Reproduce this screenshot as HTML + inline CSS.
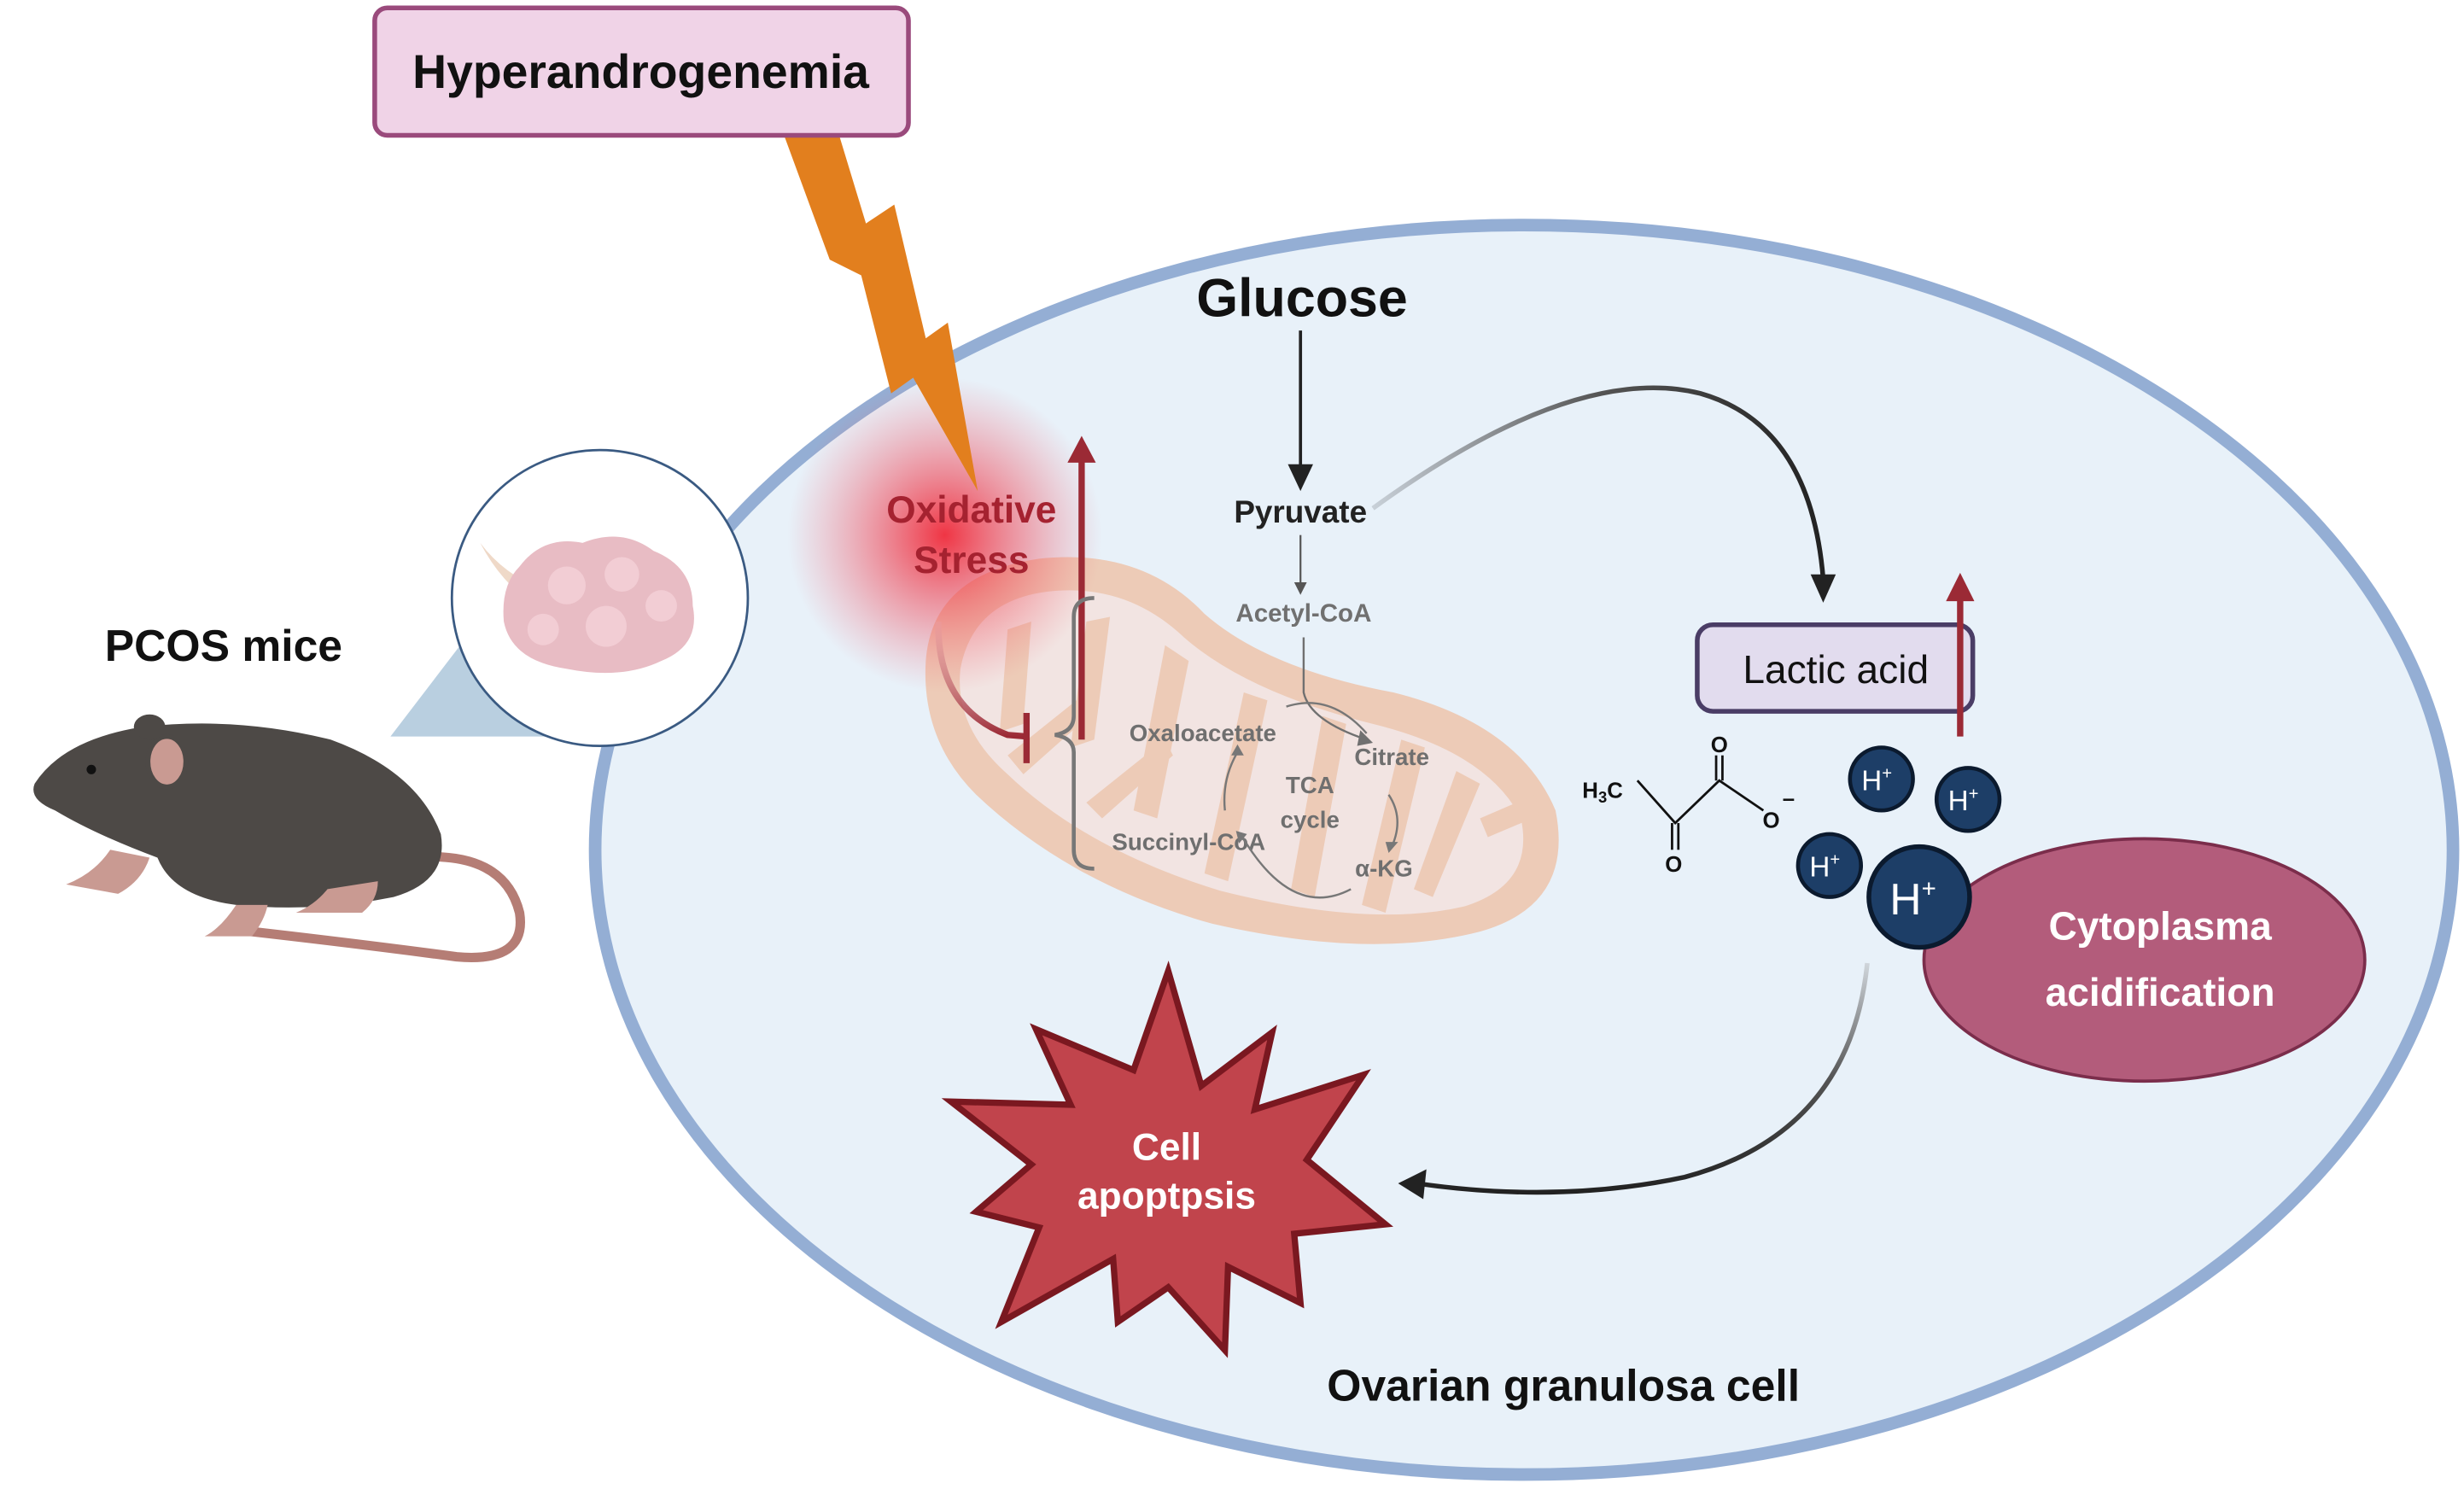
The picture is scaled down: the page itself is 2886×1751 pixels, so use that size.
<!DOCTYPE html>
<html><head><meta charset="utf-8"><style>
html,body{margin:0;padding:0;background:#fff;}
svg{display:block;}
text{font-family:"Liberation Sans",sans-serif;}
</style></head><body>
<svg width="2886" height="1751" viewBox="0 0 1565 950" preserveAspectRatio="none" xmlns="http://www.w3.org/2000/svg">
<defs>
<radialGradient id="glow" cx="0.5" cy="0.5" r="0.5">
<stop offset="0" stop-color="#f02030" stop-opacity="0.9"/>
<stop offset="0.5" stop-color="#f04050" stop-opacity="0.45"/>
<stop offset="1" stop-color="#f06070" stop-opacity="0"/>
</radialGradient>
<linearGradient id="g1" x1="0" y1="0" x2="1" y2="0">
<stop offset="0" stop-color="#c8d0d8"/><stop offset="0.5" stop-color="#555"/><stop offset="1" stop-color="#222"/>
</linearGradient>
<linearGradient id="g2" x1="0" y1="0" x2="0" y2="1">
<stop offset="0" stop-color="#d0d6dc"/><stop offset="0.5" stop-color="#555"/><stop offset="1" stop-color="#222"/>
</linearGradient>
<linearGradient id="g3" x1="0" y1="0" x2="0" y2="1">
<stop offset="0" stop-color="#e8a0a8" stop-opacity="0.3"/><stop offset="1" stop-color="#9b2a35"/>
</linearGradient>
</defs>

<ellipse cx="968" cy="540" rx="590" ry="397" fill="#e8f1f9" stroke="#94aed4" stroke-width="8"/>

<polygon points="248,468 372,468 300,400" fill="#b9cfe0"/>
<circle cx="381" cy="380" r="94" fill="#fff" stroke="#3a5a82" stroke-width="1.5"/>
<path d="M305,345 Q320,365 345,375 L340,385 Q318,370 305,345Z" fill="#efd9c8"/>
<path d="M330,360 Q345,340 370,345 Q395,335 415,350 Q440,360 440,385 Q445,410 420,420 Q395,432 360,425 Q325,420 320,395 Q318,372 330,360Z" fill="#e8bcc4"/>
<circle cx="360" cy="372" r="12" fill="#f2cdd4"/><circle cx="395" cy="365" r="11" fill="#f2cdd4"/><circle cx="385" cy="398" r="13" fill="#f2cdd4"/><circle cx="345" cy="400" r="10" fill="#f2cdd4"/><circle cx="420" cy="385" r="10" fill="#f2cdd4"/>

<!-- mouse -->
<path d="M262,545 Q320,540 330,580 Q335,612 290,608 Q230,600 160,592" fill="none" stroke="#b57d75" stroke-width="6" stroke-linecap="round"/>
<path d="M22,498 Q40,470 90,462 Q150,455 210,470 Q265,490 280,530 Q285,560 250,570 Q200,580 150,575 Q110,570 100,545 Q60,530 35,515 Q18,508 22,498Z" fill="#4d4946"/>
<ellipse cx="106" cy="484" rx="12" ry="16" fill="#c99a92" stroke="#4d4946" stroke-width="3"/>
<ellipse cx="95" cy="462" rx="10" ry="8" fill="#4d4946"/>
<circle cx="58" cy="489" r="3" fill="#111"/>
<path d="M70,540 Q60,555 42,562 L75,568 Q90,560 95,545Z" fill="#c99a92"/>
<path d="M208,565 Q200,575 188,580 L230,580 Q240,572 240,560Z" fill="#c99a92"/>
<path d="M150,575 Q140,590 130,595 L160,595 Q168,585 170,575Z" fill="#c99a92"/>

<text x="142" y="420" font-size="28" font-weight="bold" text-anchor="middle" fill="#111">PCOS mice</text>

<!-- mitochondrion -->
<path d="M588,420 Q592,365 660,355 Q725,348 765,390 Q805,425 885,440 Q965,460 988,515 Q1000,575 940,592 Q870,610 770,587 Q680,562 620,505 Q585,470 588,420Z" fill="#edcbb7"/>
<path d="M610,425 Q618,382 665,376 Q715,370 752,405 Q792,440 872,460 Q945,478 966,520 Q975,562 930,576 Q870,590 775,566 Q690,540 640,492 Q606,462 610,425Z" fill="#f2e4e2"/>
<g fill="#edcbb7">
<path d="M640,400 L655,395 L650,460 L635,465Z"/>
<path d="M690,395 L705,392 L695,470 L680,475Z"/>
<path d="M640,480 L690,440 L695,452 L650,492Z"/>
<path d="M740,410 L755,420 L735,520 L720,515Z"/>
<path d="M790,440 L805,445 L780,560 L765,555Z"/>
<path d="M690,510 L740,470 L745,480 L700,520Z"/>
<path d="M840,455 L855,460 L835,570 L820,565Z"/>
<path d="M890,470 L905,475 L880,580 L865,575Z"/>
<path d="M925,490 L940,498 L910,570 L898,565Z"/>
<path d="M940,520 L975,505 L978,518 L945,532Z"/>
</g>

<circle cx="600" cy="340" r="100" fill="url(#glow)"/>

<!-- lightning -->
<polygon points="498,86 533,86 550,142 568,130 588,215 602,205 621,312 580,240 566,250 547,175 527,165" fill="#e27f1e"/>

<rect x="238" y="5" width="339" height="81" rx="8" fill="#f0d3e7" stroke="#9a4a7c" stroke-width="3"/>
<text x="407" y="56" font-size="30" font-weight="bold" text-anchor="middle" fill="#111">Hyperandrogenemia</text>

<text x="617" y="332" font-size="24" font-weight="bold" text-anchor="middle" fill="#a52230">Oxidative</text>
<text x="617" y="364" font-size="24" font-weight="bold" text-anchor="middle" fill="#a52230">Stress</text>
<line x1="687" y1="470" x2="687" y2="292" stroke="#9b2a35" stroke-width="4"/>
<polygon points="678,294 696,294 687,277" fill="#9b2a35"/>
<path d="M596,395 Q595,450 640,467 L652,468" fill="none" stroke="url(#g3)" stroke-width="4"/>
<line x1="652" y1="453" x2="652" y2="485" stroke="#9b2a35" stroke-width="4"/>

<path d="M695,380 Q682,380 682,392 L682,455 Q682,465 670,467 Q682,469 682,478 L682,540 Q682,552 695,552" fill="none" stroke="#777" stroke-width="2.5"/>

<text x="827" y="201" font-size="34" font-weight="bold" text-anchor="middle" fill="#111">Glucose</text>
<line x1="826" y1="210" x2="826" y2="296" stroke="#222" stroke-width="2"/>
<polygon points="818,295 834,295 826,312" fill="#222"/>
<text x="826" y="332" font-size="20" font-weight="bold" text-anchor="middle" fill="#222">Pyruvate</text>
<line x1="826" y1="340" x2="826" y2="372" stroke="#555" stroke-width="1.2"/>
<polygon points="822,370 830,370 826,378" fill="#555"/>
<text x="828" y="395" font-size="16" font-weight="bold" text-anchor="middle" fill="#707070">Acetyl-CoA</text>
<path d="M828,405 L828,440 Q832,458 868,470" fill="none" stroke="#707070" stroke-width="1.3"/>
<polygon points="864,464 872,472 862,474" fill="#707070"/>

<g font-size="15" font-weight="bold" fill="#6f6f6f" text-anchor="middle">
<text x="764" y="471">Oxaloacetate</text>
<text x="884" y="486">Citrate</text>
<text x="832" y="504">TCA</text>
<text x="832" y="526">cycle</text>
<text x="755" y="540">Succinyl-CoA</text>
<text x="879" y="557">α-KG</text>
</g>
<g fill="none" stroke="#777" stroke-width="1.3">
<path d="M817,449 Q845,440 868,466"/>
<path d="M882,505 Q892,520 884,538"/>
<path d="M858,565 Q820,585 788,530"/>
<path d="M778,515 Q776,495 786,478"/>
</g>
<g fill="#777">
<polygon points="880,535 888,535 882,542"/>
<polygon points="785,528 792,530 787,536"/>
<polygon points="782,480 790,480 786,473"/>
</g>

<path d="M872,323 Q1000,230 1080,250 Q1150,270 1158,368" fill="none" stroke="url(#g1)" stroke-width="3"/>
<polygon points="1150,365 1166,365 1158,383" fill="#222"/>

<rect x="1078" y="397" width="175" height="55" rx="10" fill="#e2dcee" stroke="#4a3d66" stroke-width="3"/>
<text x="1166" y="434" font-size="25" text-anchor="middle" fill="#111">Lactic acid</text>
<line x1="1245" y1="468" x2="1245" y2="380" stroke="#9b2a35" stroke-width="4"/>
<polygon points="1236,382 1254,382 1245,364" fill="#9b2a35"/>

<text x="1005" y="507" font-size="14" font-weight="bold" fill="#111">H<tspan font-size="10" dy="3">3</tspan><tspan dy="-3">C</tspan></text>
<g stroke="#111" stroke-width="1.5" fill="none">
<path d="M1040,496 L1064,523 L1092,496 L1120,515"/>
<line x1="1062" y1="523" x2="1062" y2="540"/><line x1="1066" y1="523" x2="1066" y2="540"/>
<line x1="1090" y1="496" x2="1090" y2="480"/><line x1="1094" y1="496" x2="1094" y2="480"/>
</g>
<g font-size="14" font-weight="bold" fill="#111" text-anchor="middle">
<text x="1063" y="554">O</text><text x="1092" y="478">O</text><text x="1125" y="526">O</text><text x="1136" y="512">–</text>
</g>

<g fill="#1d3e67" stroke="#0b1a2e" stroke-width="2.5">
<circle cx="1195" cy="495" r="20"/><circle cx="1250" cy="508" r="20"/><circle cx="1162" cy="550" r="20"/>
</g>
<ellipse cx="1362" cy="610" rx="140" ry="77" fill="#b35c7b" stroke="#7b2d4b" stroke-width="2"/>
<circle cx="1219" cy="570" r="32" fill="#1d3e67" stroke="#0b1a2e" stroke-width="3"/>
<g fill="#fff" text-anchor="middle">
<text x="1192" y="502" font-size="18">H<tspan font-size="11" dy="-7">+</tspan></text>
<text x="1247" y="515" font-size="18">H<tspan font-size="11" dy="-7">+</tspan></text>
<text x="1159" y="557" font-size="18">H<tspan font-size="11" dy="-7">+</tspan></text>
<text x="1215" y="581" font-size="28">H<tspan font-size="16" dy="-11">+</tspan></text>
</g>
<text x="1372" y="597" font-size="25" font-weight="bold" fill="#fff" text-anchor="middle">Cytoplasma</text>
<text x="1372" y="639" font-size="25" font-weight="bold" fill="#fff" text-anchor="middle">acidification</text>

<path d="M1186,612 Q1175,720 1070,748 Q990,765 900,752" fill="none" stroke="url(#g2)" stroke-width="3"/>
<polygon points="888,752 906,743 904,762" fill="#222"/>

<polygon points="742,617 763,690 808,656 797,705 866,683 830,737 880,778 822,784 826,828 780,805 778,858 742,818 710,840 707,800 636,840 660,780 620,770 655,740 604,700 680,702 658,654 720,680" fill="#c1444c" stroke="#7a1820" stroke-width="4" stroke-linejoin="miter"/>
<text x="741" y="737" font-size="24" font-weight="bold" fill="#fff" text-anchor="middle">Cell</text>
<text x="741" y="768" font-size="24" font-weight="bold" fill="#fff" text-anchor="middle">apoptpsis</text>

<text x="993" y="890" font-size="28" font-weight="bold" text-anchor="middle" fill="#111">Ovarian granulosa cell</text>
</svg>
</body></html>
